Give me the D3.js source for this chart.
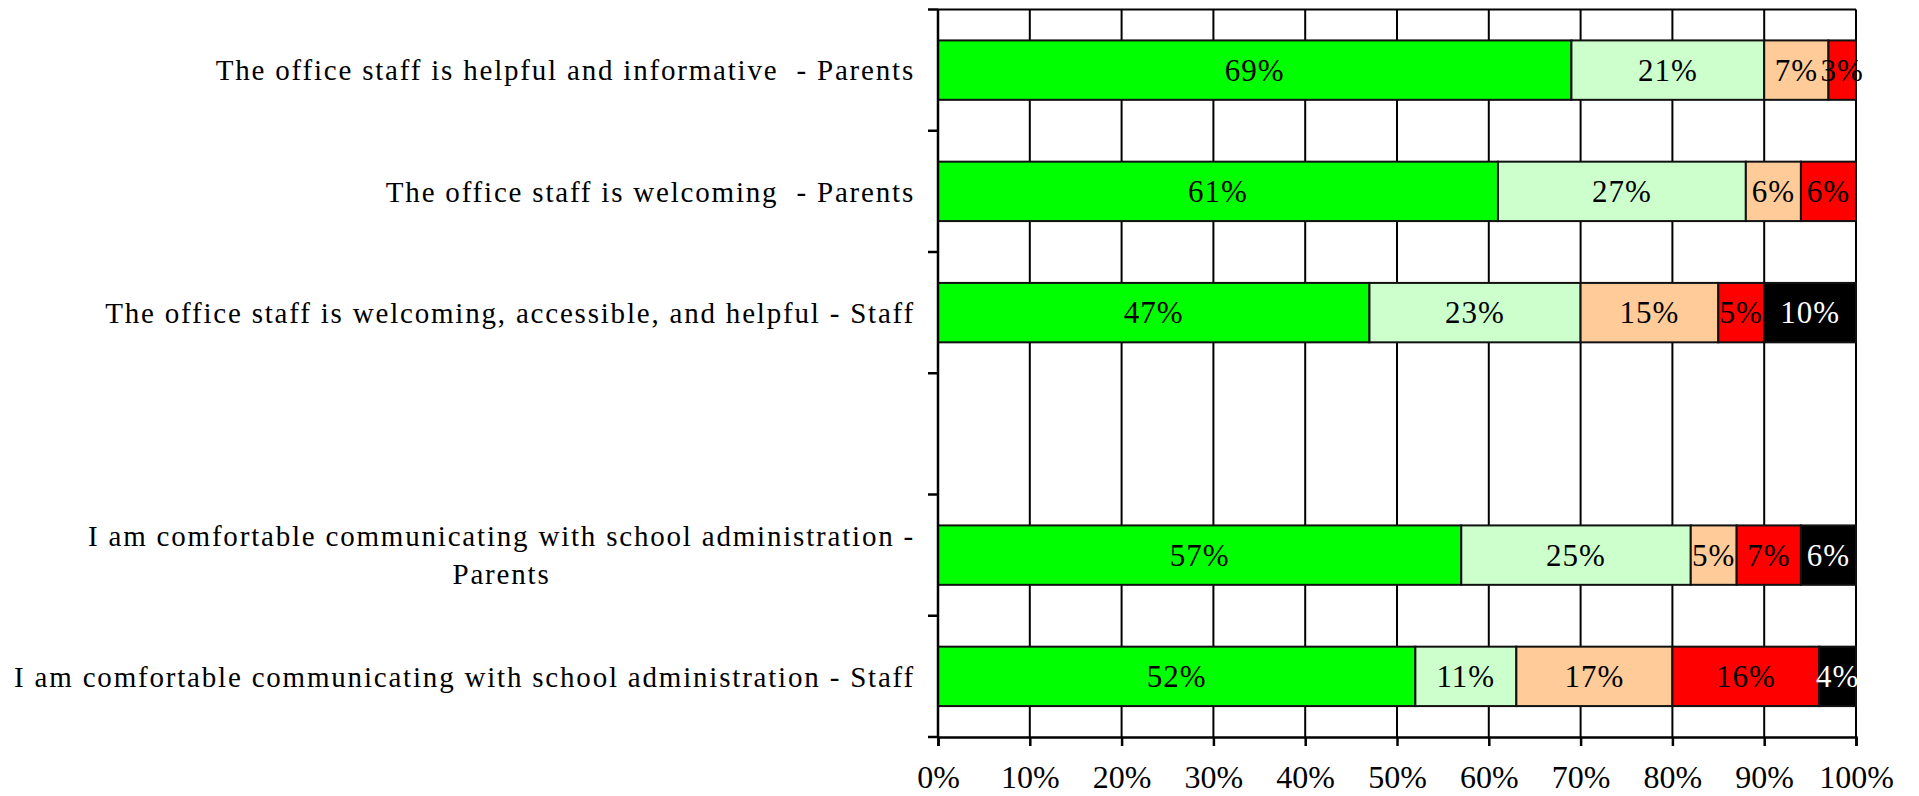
<!DOCTYPE html>
<html>
<head>
<meta charset="utf-8">
<script src="https://cdn.jsdelivr.net/npm/d3@7"></script>
<style>
  body { margin: 0; background: #fff; }
  text { font-family: "Liberation Serif", "Times New Roman", serif; }
</style>
</head>
<body>
<div class="chart"></div>
<script>
// survey rows, top to bottom (empty string = blank spacer row)
var categories = [
    "The office staff is helpful and informative  - Parents",
    "The office staff is welcoming  - Parents",
    "The office staff is welcoming, accessible, and helpful - Staff",
    "",
    "I am comfortable communicating with school administration - Parents",
    "I am comfortable communicating with school administration - Staff"
];

// percentages per response, one value per row
var seriesA = [69, 61, 47, null, 57, 52];
var seriesB = [21, 27, 23, null, 25, 11];
var seriesC = [7, 6, 15, null, 5, 17];
var seriesD = [3, 6, 5, null, 7, 16];
var seriesE = [0, 0, 10, null, 6, 4];

var xTicks = [0, 10, 20, 30, 40, 50, 60, 70, 80, 90, 100];

var colors = ["#00ff00", "#ccffcc", "#ffcc99", "#ff0000", "#000000"];
var labelColors = ["#000", "#000", "#000", "#000", "#fff"];

var margin = { top: 9.5, right: 63, bottom: 59, left: 938 },
    width = 1919 - margin.left - margin.right,
    height = 796 - margin.top - margin.bottom;

var svg = d3.select('.chart')
    .append('svg')
    .attr("width", 1919)
    .attr("height", 796)
    .append("g")
    .attr("transform", "translate(" + margin.left + "," + margin.top + ")");

var rows = categories.map(function(c, i) {
    return {
        idx: i,
        name: c,
        vals: [seriesA[i], seriesB[i], seriesC[i], seriesD[i], seriesE[i]]
    };
});

var xRange = d3.scaleLinear()
    .domain([0, 100])
    .range([0, width]);

var yRange = d3.scaleBand()
    .domain(rows.map(function(d) { return d.idx; }))
    .range([0, height])
    .paddingInner(0.51)
    .paddingOuter(0.255);

// vertical gridlines
svg.append("g")
    .selectAll("line")
    .data(xTicks)
    .enter()
    .append("line")
    .attr("x1", function(d) { return xRange(d); })
    .attr("x2", function(d) { return xRange(d); })
    .attr("y1", 0)
    .attr("y2", height)
    .attr("stroke", "#000")
    .attr("stroke-width", 2);

// top border
svg.append("line")
    .attr("x1", 0).attr("x2", width)
    .attr("y1", 0).attr("y2", 0)
    .attr("stroke", "#000")
    .attr("stroke-width", 2);

// stacked segments
var segs = [];
rows.forEach(function(r) {
    var acc = 0;
    r.vals.forEach(function(v, k) {
        if (v == null) return;
        segs.push({ idx: r.idx, k: k, x0: acc, x1: acc + v, v: v });
        acc += v;
    });
});

var bars = svg.append("g");

bars.selectAll("rect")
    .data(segs.filter(function(d) { return d.v > 0; }))
    .enter()
    .append("rect")
    .attr("x", function(d) { return xRange(d.x0); })
    .attr("y", function(d) { return yRange(d.idx); })
    .attr("width", function(d) { return xRange(d.x1) - xRange(d.x0); })
    .attr("height", yRange.bandwidth())
    .attr("fill", function(d) { return colors[d.k]; })
    .attr("stroke", "#111")
    .attr("stroke-width", 2);

bars.selectAll("text")
    .data(segs.filter(function(d) { return d.v > 0; }))
    .enter()
    .append("text")
    .attr("x", function(d) { return xRange((d.x0 + d.x1) / 2); })
    .attr("y", function(d) { return yRange(d.idx) + yRange.bandwidth() / 2; })
    .attr("dy", "0.35em")
    .attr("text-anchor", "middle")
    .attr("font-size", "31px")
    .attr("letter-spacing", "1px")
    .attr("fill", function(d) { return labelColors[d.k]; })
    .text(function(d) { return d.v + "%"; });

// x axis
var xAxis = d3.axisBottom()
    .scale(xRange)
    .tickValues(xTicks)
    .tickSize(9)
    .tickPadding(19)
    .tickFormat(function(d) { return d + "%"; });

var gx = svg.append("g")
    .attr("class", "xAxis")
    .attr("transform", "translate(0," + height + ")")
    .call(xAxis);

gx.select(".domain").attr("stroke", "#000").attr("stroke-width", 2.5);
gx.selectAll(".tick line").attr("stroke", "#000").attr("stroke-width", 2.5);
gx.selectAll(".tick text")
    .attr("font-family", "Liberation Serif")
    .attr("font-size", "32px")
    .attr("fill", "#000");

// y axis: ticks sit on the row boundaries
var step = yRange.step();
var yBounds = d3.range(categories.length + 1).map(function(i) { return i * step; });

svg.append("line")
    .attr("x1", 0).attr("x2", 0)
    .attr("y1", 0).attr("y2", height)
    .attr("stroke", "#000")
    .attr("stroke-width", 2.5);

svg.append("g")
    .selectAll("line")
    .data(yBounds)
    .enter()
    .append("line")
    .attr("x1", -10).attr("x2", 0)
    .attr("y1", function(d) { return d; })
    .attr("y2", function(d) { return d; })
    .attr("stroke", "#000")
    .attr("stroke-width", 2.5);

// category labels, wrapped when they do not fit
var maxW = 916;
var catText = svg.append("g")
    .selectAll("text")
    .data(rows.filter(function(d) { return d.name !== ""; }))
    .enter()
    .append("text")
    .attr("text-anchor", "middle")
    .attr("font-size", "29px")
    .attr("letter-spacing", "1.8px")
    .style("white-space", "pre")
    .attr("fill", "#000");

catText.each(function(d) {
    var t = d3.select(this);
    var cy = yRange(d.idx) + yRange.bandwidth() / 2;
    t.text(d.name);
    var lines = [d.name];
    if (this.getComputedTextLength() > maxW) {
        var words = d.name.split(" ");
        lines = [];
        var line = [];
        t.text(null);
        words.forEach(function(w) {
            line.push(w);
            t.text(line.join(" "));
            if (this.getComputedTextLength() > maxW && line.length > 1) {
                line.pop();
                lines.push(line.join(" "));
                line = [w];
            }
        }, this);
        lines.push(line.join(" "));
    }
    t.text(null);
    var lh = 38;
    var w0 = 0;
    lines.forEach(function(l) {
        t.text(l);
        w0 = Math.max(w0, this.getComputedTextLength());
    }, this);
    t.text(null);
    var xc = -23 - w0 / 2;
    lines.forEach(function(l, i) {
        t.append("tspan")
            .attr("x", xc)
            .attr("y", cy + (i - (lines.length - 1) / 2) * lh)
            .attr("dy", "0.35em")
            .text(l);
    });
});
</script>
</body>
</html>
